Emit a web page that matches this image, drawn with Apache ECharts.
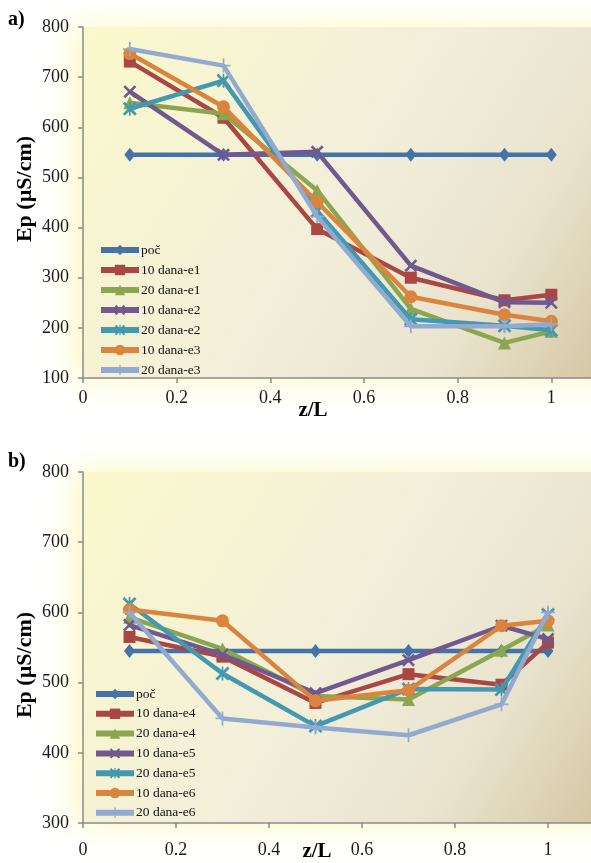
<!DOCTYPE html>
<html>
<head>
<meta charset="utf-8">
<script src="https://cdn.jsdelivr.net/npm/echarts@6/dist/echarts.min.js"></script>
<style>
  html, body { margin: 0; padding: 0; background: #fff; }
  #chart { width: 591px; height: 863px; }
</style>
</head>
<body>
<div id="chart"></div>
<script>
// Relative depth positions z/L where Ep was measured
const zL = [0.1, 0.3, 0.5, 0.7, 0.9, 1.0];

// Panel a) series names and Ep values (µS/cm)
const namesA = ['poč', '10 dana-e1', '20 dana-e1', '10 dana-e2', '20 dana-e2', '10 dana-e3', '20 dana-e3'];
const poc = [545, 545, 545, 545, 545, 545];
const d10e1 = [731, 619, 397, 300, 255, 266];
const d20e1 = [649, 627, 474, 238, 170, 193];
const d10e2 = [671, 545, 551, 324, 251, 250];
const d20e2 = [637, 693, 433, 217, 204, 195];
const d10e3 = [747, 641, 451, 262, 226, 213];
const d20e3 = [756, 723, 422, 203, 203, 207];

// Panel b) series names and Ep values (µS/cm)
const namesB = ['poč', '10 dana-e4', '20 dana-e4', '10 dana-e5', '20 dana-e5', '10 dana-e6', '20 dana-e6'];
const d10e4 = [565, 537, 471, 512, 497, 557];
const d20e4 = [593, 548, 481, 476, 546, 582];
const d10e5 = [582, 540, 485, 532, 581, 562];
const d20e5 = [612, 513, 438, 491, 490, 597];
const d10e6 = [604, 588, 474, 489, 581, 588];
const d20e6 = [600, 449, 436, 425, 469, 600];

// Axis ranges / ticks
const xTicks = { min: 0, max: 1.2, step: 0.2 };
const yTicksA = { min: 100, max: 800, step: 100 };
const yTicksB = { min: 300, max: 800, step: 100 };

const valuesA = [poc, d10e1, d20e1, d10e2, d20e2, d10e3, d20e3];
const valuesB = [poc, d10e4, d20e4, d10e5, d20e5, d10e6, d20e6];

// Styling per series slot (same look in both panels)
const colors = ['#4672A8', '#AA4744', '#8AA64F', '#71588F', '#4299B0', '#DB843D', '#93AAD0'];
const P_X = 'path://M0,1.4 L1.4,0 L5,3.6 L8.6,0 L10,1.4 L6.4,5 L10,8.6 L8.6,10 L5,6.4 L1.4,10 L0,8.6 L3.6,5 Z';
const P_STAR = 'path://M0,1.4 L1.4,0 L5,3.6 L8.6,0 L10,1.4 L6.4,5 L10,8.6 L8.6,10 L5,6.4 L1.4,10 L0,8.6 L3.6,5 Z M4.4,0 L5.6,0 L5.6,10 L4.4,10 Z';
const P_PLUS = 'path://M4.4,0 L5.6,0 L5.6,4.4 L10,4.4 L10,5.6 L5.6,5.6 L5.6,10 L4.4,10 L4.4,5.6 L0,5.6 L0,4.4 L4.4,4.4 Z';
const symbols = ['diamond', 'rect', 'triangle', P_X, P_STAR, 'circle', P_PLUS];
const symSizes = [[11, 14], 12, 13, 13, 14, 13, 14];

const serif = 'Liberation Serif, Times New Roman, serif';

const plotBg = {
  type: 'linear', x: 0, y: 0, x2: 1, y2: 1,
  colorStops: [
    { offset: 0, color: '#FBF9CC' },
    { offset: 0.45, color: '#F2EFDA' },
    { offset: 0.72, color: '#EAE4CF' },
    { offset: 1, color: '#CFBF98' }
  ]
};

// The plot area runs past the right edge of the canvas (x up to 1.2)
function makeGrid(top, width) {
  return {
    left: 83, top: top, height: 351, width: width,
    outerBoundsMode: 'none',
    containLabel: false,
    show: true, borderWidth: 0,
    backgroundColor: plotBg,
    shadowBlur: 30, shadowColor: 'rgba(252,248,180,0.9)', shadowOffsetX: -8
  };
}

function makeX(gi, margin) {
  return {
    type: 'value', gridIndex: gi, min: xTicks.min, max: xTicks.max, interval: xTicks.step,
    axisLine: { show: true, onZero: false, lineStyle: { color: '#8A8A8A', width: 1.5 } },
    axisTick: { show: true, length: 5, lineStyle: { color: '#8A8A8A', width: 1.5 } },
    axisLabel: { fontFamily: serif, fontSize: 18, color: '#1a1a1a', margin: margin,
      formatter: v => String(Math.round(v * 10) / 10) },
    splitLine: { show: false }
  };
}

function makeY(gi, t) {
  return {
    type: 'value', gridIndex: gi, min: t.min, max: t.max, interval: t.step,
    axisLine: { show: true, lineStyle: { color: '#8A8A8A', width: 1.5 } },
    axisTick: { show: true, length: 5, lineStyle: { color: '#8A8A8A', width: 1.5 } },
    axisLabel: { fontFamily: serif, fontSize: 18, color: '#1a1a1a', margin: 14 },
    splitLine: { show: false }
  };
}

function makeSeries(names, values, gi) {
  return names.map((name, i) => ({
    name: name,
    type: 'line',
    xAxisIndex: gi, yAxisIndex: gi,
    data: zL.map((x, k) => [x, values[i][k]]),
    symbol: symbols[i],
    symbolSize: symSizes[i],
    showAllSymbol: true,
    lineStyle: { color: colors[i], width: 4.5 },
    itemStyle: { color: colors[i] },
    emphasis: { disabled: true },
    z: 2 + i
  }));
}

function makeLegend(names, left, top, gap) {
  return {
    data: names,
    orient: 'vertical',
    left: left, top: top,
    itemWidth: 38, itemHeight: 13, itemGap: gap,
    lineStyle: { width: 6 },
    textStyle: { fontFamily: serif, fontSize: 13.5, color: '#111', padding: [0, 0, 0, -3] },
    selectedMode: false
  };
}

const chart = echarts.init(document.getElementById('chart'), null, { renderer: 'canvas' });

chart.setOption({
  animation: false,
  backgroundColor: '#ffffff',
  grid: [makeGrid(27, 562), makeGrid(472, 558)],
  xAxis: [makeX(0, 11), makeX(1, 18)],
  yAxis: [makeY(0, yTicksA), makeY(1, yTicksB)],
  legend: [makeLegend(namesA, 93, 238, 6), makeLegend(namesB, 88, 682, 5.8)],
  series: makeSeries(namesA, valuesA, 0).concat(makeSeries(namesB, valuesB, 1)),
  graphic: [
    { type: 'text', left: 8, top: 10, style: { text: 'a)', font: 'bold 20px ' + serif, fill: '#000' } },
    { type: 'text', left: 8, top: 452, style: { text: 'b)', font: 'bold 20px ' + serif, fill: '#000' } },
    { type: 'text', x: 313, y: 411, style: { text: 'z/L', font: 'bold 21px ' + serif, fill: '#000', align: 'center', verticalAlign: 'middle' } },
    { type: 'text', x: 317, y: 852, style: { text: 'z/L', font: 'bold 21px ' + serif, fill: '#000', align: 'center', verticalAlign: 'middle' } },
    { type: 'text', x: 25, y: 189, rotation: Math.PI / 2, style: { text: 'Ep (µS/cm)', font: 'bold 22px ' + serif, fill: '#000', align: 'center', verticalAlign: 'middle' } },
    { type: 'text', x: 25, y: 665, rotation: Math.PI / 2, style: { text: 'Ep (µS/cm)', font: 'bold 22px ' + serif, fill: '#000', align: 'center', verticalAlign: 'middle' } }
  ]
});
</script>
</body>
</html>
